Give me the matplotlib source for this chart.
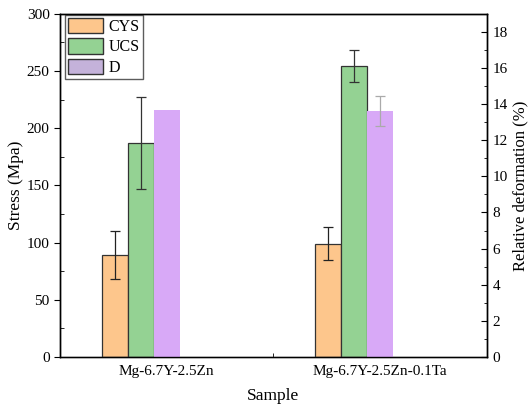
import numpy as np
import matplotlib.pyplot as plt
from matplotlib.patches import Patch
from matplotlib.ticker import MultipleLocator

plt.rcParams['font.family'] = ['Liberation Serif', 'DejaVu Serif']

samples = ['Mg-6.7Y-2.5Zn', 'Mg-6.7Y-2.5Zn-0.1Ta']
cys = [89, 99]
cys_err = [21, 14.5]
ucs = [187, 254]
ucs_err = [40, 14]
d = [13.65, 13.63]
d_err = [0, 0.84]

x = np.arange(1, len(samples) + 1)
w = 0.122

fig = plt.figure(figsize=(5.31, 4.07), dpi=100)
ax = fig.add_axes([0.113, 0.123, 0.804, 0.843])
ax2 = ax.twinx()

ax.bar(x - 2 * w, cys, w, color='#FDC68C', edgecolor='#333333', linewidth=0.9,
       yerr=cys_err, error_kw=dict(ecolor='#222222', elinewidth=0.9, capsize=3.5, capthick=0.9))
ax.bar(x - w, ucs, w, color='#94D293', edgecolor='#333333', linewidth=0.9,
       yerr=ucs_err, error_kw=dict(ecolor='#333333', elinewidth=0.9, capsize=3.5, capthick=0.9))
ax2.bar(x, d, w, color='#D8A9F7', edgecolor='none')
has_err = np.array(d_err) > 0
ax2.errorbar(x[has_err], np.array(d)[has_err], yerr=np.array(d_err)[has_err], fmt='none',
             ecolor='#AAAAAA', elinewidth=0.9, capsize=3.5, capthick=0.9)

ax.set_xlim(0.5, 2.5)
ax.set_ylim(0, 300)
ax2.set_ylim(0, 19)
ax.set_xticks(x)
ax.set_xticklabels(samples)
ax.xaxis.set_minor_locator(MultipleLocator(0.5))
ax.yaxis.set_major_locator(MultipleLocator(50))
ax.yaxis.set_minor_locator(MultipleLocator(25))
ax2.yaxis.set_major_locator(MultipleLocator(2))
ax2.yaxis.set_minor_locator(MultipleLocator(1))

ax.tick_params(axis='x', which='both', direction='in', top=False, labelsize=11, length=5, pad=6)
ax.tick_params(axis='x', which='minor', length=3)
ax.tick_params(axis='y', which='major', direction='out', length=4, labelsize=11)
ax.tick_params(axis='y', which='minor', direction='in', length=3)
ax2.tick_params(axis='y', which='major', direction='in', length=4, labelsize=11, pad=4)
ax2.tick_params(axis='y', which='minor', direction='in', length=2.5)

for a in (ax, ax2):
    for s in a.spines.values():
        s.set_linewidth(1.0)
ax.spines['bottom'].set_color('#555555')

ax.set_ylabel('Stress (Mpa)', fontsize=12.5, labelpad=2)
ax2.set_ylabel('Relative deformation (%)', fontsize=12, labelpad=3)
ax.set_xlabel('Sample', fontsize=12.5, labelpad=7)

handles = [Patch(facecolor='#FDC68C', edgecolor='#333333', label='CYS'),
           Patch(facecolor='#94D293', edgecolor='#333333', label='UCS'),
           Patch(facecolor='#C4B2DA', edgecolor='#333333', label='D')]
ax.legend(handles=handles, loc='upper left', bbox_to_anchor=(0.012, 0.997), fontsize=11.5,
          frameon=True, fancybox=False, edgecolor='#333333', borderaxespad=0,
          handlelength=2.2, handleheight=1.1, handletextpad=0.3, labelspacing=0.2,
          borderpad=0.2)

fig.savefig('out.png', dpi=100)
